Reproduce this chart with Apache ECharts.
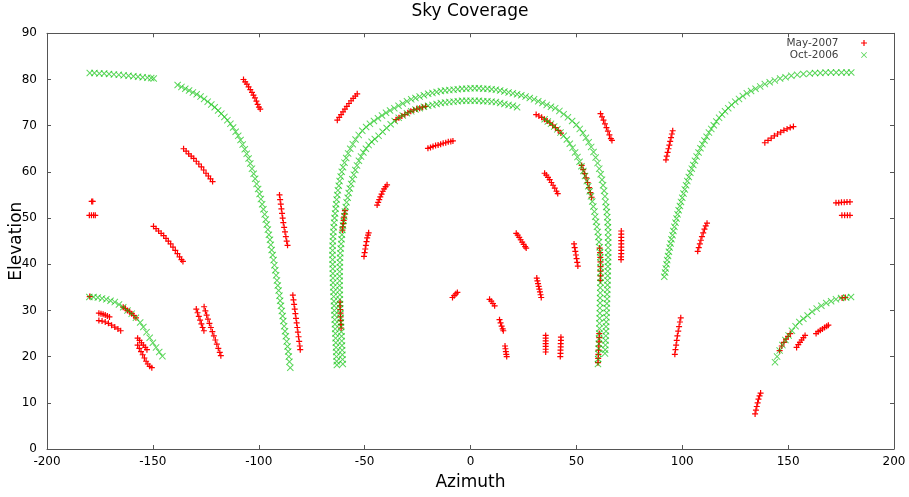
<!DOCTYPE html>
<html>
<head>
<meta charset="utf-8">
<title>Sky Coverage</title>
<script src="https://cdn.jsdelivr.net/npm/echarts@6/dist/echarts.min.js"></script>
<style>
  html, body { margin: 0; padding: 0; background: #fff; }
  #chart { width: 909px; height: 497px; }
</style>
</head>
<body>
<div id="chart"></div>
<script>
// Axis ranges (azimuth and elevation, degrees)
const azimuthAxis = { min: -200, max: 200, step: 50 };
const elevationAxis = { min: 0, max: 90, step: 10 };
const seriesNames = ['May-2007', 'Oct-2006'];

// ---- May-2007 pointings: [azimuth, elevation] ----
const mayWest = [
  [-178.9,53.6],[-178.4,53.6],
  [-180,50.6],[-179,50.6],[-178,50.6],[-177.2,50.6],
  [-179.8,33.0],
  [-107.2,80],[-106.4,79.5],[-105.6,79],[-104.8,78.4],[-104,77.8],[-103.2,77.2],[-102.5,76.6],[-101.8,76],[-101.1,75.3],[-100.5,74.6],[-99.9,74],[-99.3,73.6],
  [-135.5,65],[-134.3,64.5],[-133.1,63.9],[-131.9,63.4],[-130.7,62.9],[-129.5,62.3],[-128.3,61.7],[-127.1,61.1],[-126,60.4],[-124.9,59.7],[-123.8,59.1],[-122.8,58.5],[-121.8,57.9],
  [-149.7,48.2],[-148.5,47.7],[-147.3,47.2],[-146.1,46.7],[-144.9,46.2],[-143.8,45.6],[-142.7,45],[-141.6,44.4],[-140.5,43.7],[-139.4,43],[-138.4,42.3],[-137.4,41.6],[-136.5,41],[-135.8,40.6],
  [-175.5,29.4],[-174.5,29.3],[-173.5,29.2],[-172.5,29.0],[-171.5,28.8],[-170.5,28.6],
  [-175.5,27.8],[-174,27.7],[-172.5,27.5],[-171,27.2],[-169.5,26.8],[-168,26.4],[-166.5,26],[-165.2,25.6],
  [-164,30.7],[-163,30.4],[-162,30],[-161,29.7],[-160,29.3],[-159,28.9],[-158,28.4],
  [-157.2,24],[-156.3,23.5],[-155.4,23],[-154.5,22.5],[-153.6,22],[-152.8,21.5],
  [-157.2,22.5],[-156.4,21.8],[-155.6,21.1],[-154.8,20.4],[-154,19.7],[-153.2,19.0],[-152.4,18.4],[-151.5,17.9],[-150.5,17.6],
  [-129.5,30.3],[-128.9,29.5],[-128.3,28.7],[-127.7,27.9],[-127.1,27.1],[-126.5,26.3],[-125.9,25.6],
  [-125.8,30.8],[-125.2,29.9],[-124.6,29],[-124,28.1],[-123.3,27.2],[-122.6,26.3],[-121.9,25.4],[-121.2,24.5],[-120.5,23.6],[-119.8,22.7],[-119.1,21.8],[-118.4,20.9],[-117.9,20.2]
];

const mayCentral = [
  [-90.2,55],[-89.9,54],[-89.6,53],[-89.3,52],[-89,51],[-88.7,50],[-88.4,49],[-88,48],[-87.6,47],[-87.2,46],[-86.8,45],[-86.4,44.1],
  [-83.9,33.3],[-83.6,32.3],[-83.3,31.3],[-83,30.3],[-82.7,29.3],[-82.4,28.3],[-82.1,27.3],[-81.8,26.3],[-81.5,25.3],[-81.2,24.3],[-80.9,23.3],[-80.6,22.3],[-80.4,21.5],
  [-62.9,71.2],[-62,71.8],[-61.1,72.4],[-60.2,73],[-59.3,73.6],[-58.4,74.2],[-57.4,74.8],[-56.4,75.4],[-55.4,75.9],[-54.4,76.4],[-53.5,76.9],
  [-35.2,71.3],[-33.8,71.7],[-32.4,72.1],[-31,72.4],[-29.6,72.8],[-28.2,73.1],[-26.8,73.4],[-25.4,73.6],[-24,73.8],[-22.6,74.0],[-21.2,74.2],
  [-20.1,65.1],[-18.9,65.3],[-17.7,65.5],[-16.5,65.7],[-15.3,65.8],[-14.1,66],[-12.9,66.2],[-11.7,66.3],[-10.5,66.5],[-9.3,66.6],[-8.3,66.7],
  [-44.1,52.8],[-43.6,53.4],[-43.1,54],[-42.6,54.6],[-42,55.2],[-41.4,55.8],[-40.8,56.3],[-40.1,56.8],[-39.4,57.2],
  [-50.3,41.7],[-50,42.5],[-49.7,43.3],[-49.4,44.1],[-49.1,44.9],[-48.8,45.7],[-48.4,46.3],[-48.1,46.8],
  [-60.5,47.4],[-60.3,48.1],[-60.1,48.8],[-59.9,49.5],[-59.7,50.2],[-59.5,50.9],[-59.3,51.6],
  [-61.1,26.2],[-61.2,27],[-61.3,27.8],[-61.4,28.6],[-61.4,29.4],[-61.5,30.2],[-61.6,31],[-61.6,31.8],
  [-8.5,32.8],[-7.7,33.2],[-6.9,33.6],[-6.2,33.9]
];

const mayEastInner = [
  [9,32.4],[9.8,32],[10.6,31.5],[11.4,31.0],
  [13.7,28.0],[14.2,27.3],[14.7,26.6],[15.2,26.0],[15.5,25.6],
  [16.3,22.3],[16.5,21.7],[16.7,21.1],[16.9,20.5],[17.1,20.0],
  [21.6,46.7],[22.3,46.3],[23,45.8],[23.7,45.3],[24.4,44.8],[25.1,44.3],[25.8,43.8],[26.3,43.5],
  [35,59.7],[35.8,59.3],[36.6,58.8],[37.4,58.3],[38.2,57.7],[39,57.1],[39.8,56.5],[40.6,55.8],[41.2,55.3],
  [31.3,37.0],[31.6,36.4],[31.9,35.8],[32.2,35.2],[32.5,34.6],[32.8,34.0],[33.1,33.4],[33.4,32.8],
  [35.5,24.6],[35.5,24],[35.5,23.4],[35.5,22.8],[35.5,22.2],[35.5,21.6],[35.5,21.0],
  [42.7,24.2],[42.7,23.5],[42.6,22.8],[42.6,22.1],[42.5,21.4],[42.5,20.7],[42.4,20.0],
  [48.9,44.4],[49.2,43.6],[49.5,42.8],[49.8,42.0],[50.1,41.2],[50.4,40.4],[50.7,39.6],
  [31,72.4],[32.3,72.1],[33.6,71.8],[34.9,71.4],[36.2,71.0],[37.5,70.6],[38.8,70.1],[40.1,69.6],[41.4,69.0],[42.7,68.4],
  [52.5,61.4],[53.2,60.5],[53.9,59.6],[54.6,58.7],[55.3,57.7],[56,56.6],[56.6,55.5],[57.2,54.5],
  [61.4,72.6],[62.1,71.9],[62.8,71.2],[63.5,70.4],[64.2,69.6],[64.9,68.8],[65.6,68],[66.3,67.2],[66.8,66.8],
  [61.3,36.5],[61.4,37.5],[61.4,38.5],[61.4,39.5],[61.4,40.5],[61.3,41.5],[61.2,42.5],[61.0,43.5],
  [60.2,18.7],[60.3,19.6],[60.4,20.5],[60.5,21.4],[60.6,22.3],[60.7,23.2],[60.8,24.1],[60.8,25],
  [71.2,47.2],[71.2,46.5],[71.2,45.8],[71.2,45.1],[71.2,44.4],[71.2,43.7],[71.2,43],[71.2,42.3],[71.1,41.6],[71.1,41]
];

const mayEast = [
  [92.3,62.6],[92.7,63.4],[93.1,64.2],[93.5,65],[93.9,65.8],[94.3,66.6],[94.7,67.4],[95.1,68.2],[95.5,68.9],
  [96.5,20.5],[96.8,21.5],[97.1,22.5],[97.4,23.5],[97.7,24.5],[98.1,25.5],[98.5,26.5],[98.9,27.5],[99.3,28.4],
  [107.3,42.8],[107.8,43.6],[108.3,44.4],[108.8,45.2],[109.3,46],[109.9,46.8],[110.5,47.6],[111.1,48.3],[111.7,48.9],
  [139,66.3],[140.5,66.8],[142,67.3],[143.5,67.8],[145,68.2],[146.5,68.6],[148,69],[149.5,69.3],[151,69.6],[152.5,69.8],
  [172.6,53.3],[173.9,53.3],[175.2,53.4],[176.5,53.4],[177.8,53.5],[179.2,53.5],
  [175.4,50.6],[176.7,50.6],[178,50.6],[179.2,50.6],
  [134.4,7.6],[134.8,8.4],[135.2,9.2],[135.6,10],[136,10.8],[136.5,11.5],[137,12.1],
  [146,21.3],[147,22.3],[148,23.1],[149,23.8],[150,24.4],[151,25],
  [175.5,32.7],[177,32.8],
  [154,22],[154.8,22.6],[155.6,23.1],[156.4,23.6],[157.2,24.1],[158,24.6],
  [163.2,25],[164.2,25.4],[165.2,25.7],[166.2,26],[167.2,26.3],[168.2,26.6],[169,26.8]
];

// ---- Oct-2006 pointings: [azimuth, elevation] ----
const octNorthWest = [
  [-179.8,81.4],[-177.6,81.4],[-175.3,81.3],[-173,81.3],[-170.7,81.2],[-168.4,81.1],[-166.1,81.0],[-163.8,80.9],[-161.5,80.8],[-159.2,80.7],[-157,80.6],[-154.8,80.5],[-152.6,80.4],[-150.8,80.3],[-149.6,80.2],
  [-138.3,78.8],[-136.5,78.4],[-134.7,78.0],[-132.9,77.6],[-131.1,77.2],[-129.3,76.8],[-127.5,76.3],[-125.8,75.8],[-124.1,75.2],[-122.4,74.6],[-120.8,74.0],[-119.2,73.3],[-117.7,72.6],[-116.2,71.9],[-114.8,71.2],[-113.4,70.4],[-112.1,69.6],[-110.9,68.7],[-109.7,67.8],[-108.6,66.9],[-107.6,65.9],[-106.6,64.9],[-105.7,63.9],[-104.8,62.9],[-104,61.8],[-103.2,60.7],[-102.4,59.6],[-101.7,58.5],[-101,57.4],[-100.3,56.3],[-99.6,55.2],[-99,54.1],[-98.4,53],[-97.8,51.9],[-97.2,50.8],[-96.7,49.7],[-96.2,48.6],[-95.7,47.5],[-95.2,46.4],[-94.7,45.3],[-94.3,44.2],[-93.9,43.1],[-93.4,42],[-93,40.9],[-92.6,39.8],[-92.2,38.7],[-91.8,37.6],[-91.4,36.5],[-91,35.4],[-90.6,34.3],[-90.2,33.2],[-89.9,32.1],[-89.5,31],[-89.1,29.9],[-88.7,28.8],[-88.4,27.7],[-88,26.6],[-87.6,25.5],[-87.2,24.4],[-86.8,23.3],[-86.4,22.2],[-86.1,21.1],[-85.8,20],[-85.5,18.9],[-85.1,17.6]
];

const octOuterArc = [
  [-63.1,18.2],[-63.2,19],[-63.3,20],[-63.4,21],[-63.5,22],[-63.6,23],[-63.7,24],[-63.8,25],[-63.9,26],[-64.0,27],[-64.1,28],[-64.2,29],[-64.3,30],[-64.4,31],[-64.5,32],[-64.6,33],[-64.7,34],[-64.8,35],[-64.9,36],[-64.95,37],[-65.0,38],[-65.05,39],[-65.1,40],[-65.15,41],[-65.2,42],[-65.15,43],[-65.1,44],[-65.0,45],[-64.9,46],[-64.75,47],[-64.6,48],[-64.4,49],[-64.2,50],[-63.95,51],[-63.7,52],[-63.45,53],[-63.2,54],[-62.9,55],
  [-62.6,56],[-62.2,57],[-61.8,58],[-61.3,59],[-60.8,60],[-60.2,61],[-59.5,62],[-58.7,63],[-57.8,64],[-56.8,65],[-55.6,66],[-54.3,67],[-52.8,68],[-51.1,68.9],[-49.3,69.7],[-47.5,70.4],[-45.6,71.0],[-43.7,71.6],[-41.8,72.2],[-39.9,72.8],[-38,73.3],[-36,73.8],[-34,74.3],[-32,74.8],[-30,75.3],
  [-28,75.7],[-26,76.0],[-24,76.3],[-22,76.6],[-20,76.9],[-18,77.1],[-16,77.3],[-14,77.5],[-12,77.6],[-10,77.7],[-8,77.8],[-6,77.9],[-4,78.0],[-2,78.0],[0,78.1],[2,78.1],[4,78.1],[6,78.0],[8,78.0],[10,77.9],[12,77.8],[14,77.6],[16,77.4],[18,77.2],[20,77.0],[22,76.8],[24,76.6],[26,76.3],[28,76.0],[30,75.7],[32,75.3],[34,74.9],[36,74.5],[38,74.1],
  [40,73.8],[42,73.2],[44,72.5],[46,71.8],[48,71.0],[50,70.2],[51.6,69.3],[53.1,68.4],[54.5,67.4],[55.8,66.4],[57,65.4],[58.1,64.3],[59.1,63.1],[60,61.9],[60.8,60.7],[61.5,59.5],[62.1,58.3],[62.6,57.1],[63.1,55.9],[63.5,54.7],[63.8,53.5],[64.1,52.4],[64.4,51.3],[64.6,50.2],[64.8,49.1],[64.9,48],[65.0,46.9],[65.0,45.8],[65.0,44.7],
  [65.0,43.6],[65.0,42.5],[65.0,41.5],[64.9,40.5],[64.9,39.5],[64.8,38.5],[64.8,37.5],[64.7,36.5],[64.7,35.5],[64.6,34.5],[64.5,33.5],[64.5,32.5],[64.4,31.5],[64.3,30.5],[64.3,29.5],[64.2,28.5],[64.1,27.5],[64.0,26.5],[64.0,25.5],[63.9,24.5],[63.8,23.5],[63.7,22.5],[63.6,21.5],[63.5,20.7]
];

const octInnerArc = [
  [-60.3,18.4],[-60.4,19.4],[-60.5,20.4],[-60.6,21.4],[-60.7,22.4],[-60.8,23.4],[-60.9,24.4],[-61.0,25.4],[-61.1,26.4],[-61.2,27.4],[-61.3,28.4],[-61.4,29.4],[-61.5,30.4],[-61.6,31.4],[-61.7,32.4],[-61.7,33.4],[-61.8,34.4],[-61.8,35.4],[-61.8,36.4],[-61.8,37.4],[-61.8,38.4],[-61.7,39.4],[-61.7,40.4],[-61.6,41.4],[-61.5,42.4],[-61.3,43.4],[-61.1,44.4],[-60.9,45.4],[-60.7,46.4],[-60.5,47.4],[-60.2,48.4],[-59.9,49.4],[-59.6,50.4],[-59.3,51.4],[-58.9,52.4],[-58.5,53.4],[-58.0,54.4],[-57.5,55.4],[-57.0,56.4],[-56.4,57.4],[-55.8,58.4],[-55.1,59.4],[-54.4,60.4],[-53.6,61.4],[-52.7,62.4],[-51.7,63.3],[-50.6,64.2],[-49.4,65],[-48.1,65.8],[-46.7,66.5],[-45.2,67.1],
  [-43.4,67.8],[-41.5,68.7],[-39.6,69.5],[-37.7,70.3],[-35.8,71.0],[-33.9,71.7],[-32,72.2],[-30,72.7],[-28,73.1],[-26,73.5],[-24,73.8],[-22,74.1],[-20,74.3],[-18,74.5],[-16,74.7],[-14,74.9],[-12,75.0],[-10,75.1],[-8,75.2],[-6,75.3],[-4,75.4],[-2,75.4],[0,75.4],[2,75.4],[4,75.4],[6,75.3],[8,75.3],[10,75.2],[12,75.1],[14,74.9],[16,74.7],[18,74.5],[20,74.3],[22,74.0]
];

const octInnerEast = [
  [35,71.4],[36.5,70.9],[38,70.4],[39.5,69.8],[41,69.2],[42.5,68.5],[44,67.8],[45.5,67],[46.9,66.1],[48.2,65.2],[49.4,64.2],[50.5,63.2],[51.5,62.2],[52.4,61.2],[53.3,60.2],[54.1,59.1],[54.9,58],[55.6,56.9],[56.3,55.8],[56.9,54.7],[57.5,53.6],[58,52.5],[58.5,51.4],[58.9,50.3],[59.3,49.2],[59.7,48.1],[60.1,47],[60.4,45.9],[60.7,44.8],[61,43.7],[61.2,42.6],[61.3,41.5],[61.4,40.4],[61.4,39.3],[61.4,38.2],[61.4,37.1],[61.4,36],[61.3,34.9],[61.3,33.8],[61.2,32.7],[61.2,31.6],[61.1,30.5],[61.1,29.4],[61,28.3],[60.9,27.2],[60.9,26.1],[60.8,25],[60.7,23.9],[60.6,22.8],[60.5,21.7],[60.4,20.6],[60.3,19.5],[60.2,18.4]
];

const octNorthEast = [
  [91.5,37.3],[91.9,38.2],[92.2,39.1],[92.6,40],[92.9,40.9],[93.3,41.8],[93.7,42.7],[94.1,43.6],[94.5,44.5],[94.9,45.4],[95.4,46.3],[95.8,47.2],[96.3,48.1],[96.8,49],[97.3,49.9],[97.8,50.8],[98.3,51.7],[98.9,52.6],[99.4,53.5],[100,54.4],[100.6,55.3],[101.2,56.2],[101.8,57.1],[102.4,58],[103.1,58.9],[103.8,59.8],[104.5,60.7],[105.2,61.5],[106,62.4],[106.8,63.3],[107.7,64.2],[108.6,65.1],[109.5,66],[110.5,66.8],[111.5,67.6],[112.6,68.5],[113.7,69.3],[114.9,70.1],[116.1,70.9],[117.4,71.7],[118.8,72.4],[120.2,73.1],[121.7,73.8],[123.3,74.5],[125,75.2],[126.8,75.8],[128.6,76.4],[130.5,77],[132.5,77.5],[134.6,78],[136.8,78.5],[139,79],[141.3,79.4],[143.7,79.8],[146.2,80.2],[148.8,80.5],[151.5,80.8],[154.3,81],[157.2,81.2],[160.2,81.3],[162.7,81.4],[165.2,81.4],[167.7,81.5],[170.2,81.5],[172.7,81.5],[175.2,81.5],[177.6,81.5],[179.8,81.5]
];

const octSouthWest = [
  [-180,32.9],[-178,32.9],[-176,32.8],[-174,32.6],[-172,32.4],[-170,32.1],[-168,31.8],[-166,31.3],[-164,30.7],[-162,30.0],[-160,29.3],[-158,28.4],[-156,27.4],[-154.5,26.4],[-153,25.3],[-151.5,24.1],[-150,23.0],[-148.5,22.0],[-147,21.0],[-145.5,20.1]
];

const octSouthEast = [
  [143.8,18.8],[144.8,20.0],[146,21.3],[147.3,22.5],[148.7,23.6],[150.2,24.6],[151.8,25.6],[153.5,26.6],[155.3,27.5],[157.2,28.2],[159.2,28.9],[161.3,29.7],[163.5,30.4],[165.7,31.0],[168,31.6],[170.3,32.0],[172.6,32.4],[175,32.7],[177.4,32.8],[179.7,32.9]
];

const may2007 = [].concat(mayWest, mayCentral, mayEastInner, mayEast);
const oct2006 = [].concat(octNorthWest, octOuterArc, octInnerArc, octInnerEast, octNorthEast, octSouthWest, octSouthEast);

// Point glyphs: "+" and "x" drawn as thin filled outlines
const PLUS = 'path://M4,0L6,0L6,4L10,4L10,6L6,6L6,10L4,10L4,6L0,6L0,4L4,4Z';
const CROSS = 'path://M0,1L1,0L5,4L9,0L10,1L6,5L10,9L9,10L5,6L1,10L0,9L4,5Z';

const FONT = 'DejaVu Sans, sans-serif';
const axisColor = '#555555';

function baseAxis(range, extra) {
  return Object.assign({
    type: 'value',
    min: range.min,
    max: range.max,
    interval: range.step,
    axisLine: { show: true, onZero: false, lineStyle: { color: axisColor, width: 1 } },
    axisTick: { show: true, inside: true, length: 4, lineStyle: { color: axisColor } },
    splitLine: { show: false }
  }, extra);
}

const chart = echarts.init(document.getElementById('chart'), null, { renderer: 'canvas' });
chart.setOption({
  animation: false,
  backgroundColor: '#ffffff',
  graphic: [{
    type: 'text',
    x: 470,
    y: 12,
    style: {
      text: 'Sky Coverage',
      font: '17px ' + FONT,
      fill: '#000',
      textAlign: 'center',
      textVerticalAlign: 'middle'
    }
  }],
  legend: {
    orient: 'vertical',
    right: 37,
    top: 32.5,
    align: 'right',
    itemWidth: 41,
    itemHeight: 6,
    itemGap: 1,
    selectedMode: false,
    textStyle: { fontFamily: FONT, fontSize: 10.5, color: '#404040', lineHeight: 11 },
    data: [
      { name: seriesNames[0], icon: PLUS },
      { name: seriesNames[1], icon: CROSS }
    ]
  },
  grid: { left: 47, right: 15, top: 33.3, bottom: 48, containLabel: false, outerBoundsMode: 'none' },
  xAxis: [
    baseAxis(azimuthAxis, {
      position: 'bottom',
      name: 'Azimuth',
      nameLocation: 'middle',
      nameGap: 25,
      nameMoveOverlap: false,
      nameTextStyle: { fontFamily: FONT, fontSize: 17, color: '#000' },
      axisLabel: { fontFamily: FONT, fontSize: 12, color: '#000', margin: 7, showMinLabel: true, showMaxLabel: true }
    }),
    baseAxis(azimuthAxis, { position: 'top', axisLabel: { show: false } })
  ],
  yAxis: [
    baseAxis(elevationAxis, {
      position: 'left',
      name: 'Elevation',
      nameLocation: 'middle',
      nameRotate: 90,
      nameGap: 22,
      nameMoveOverlap: false,
      nameTextStyle: { fontFamily: FONT, fontSize: 17, color: '#000' },
      axisLabel: { fontFamily: FONT, fontSize: 12, color: '#000', margin: 10, showMinLabel: true, showMaxLabel: true }
    }),
    baseAxis(elevationAxis, { position: 'right', axisLabel: { show: false } })
  ],
  series: [
    {
      name: seriesNames[0],
      type: 'scatter',
      symbol: PLUS,
      symbolSize: 6,
      silent: true,
      itemStyle: { color: '#ff0000', opacity: 1 },
      emphasis: { disabled: true },
      data: may2007
    },
    {
      name: seriesNames[1],
      type: 'scatter',
      symbol: CROSS,
      symbolSize: 7,
      silent: true,
      itemStyle: { color: '#00c000', opacity: 0.65 },
      emphasis: { disabled: true },
      data: oct2006
    }
  ]
});
</script>
</body>
</html>
